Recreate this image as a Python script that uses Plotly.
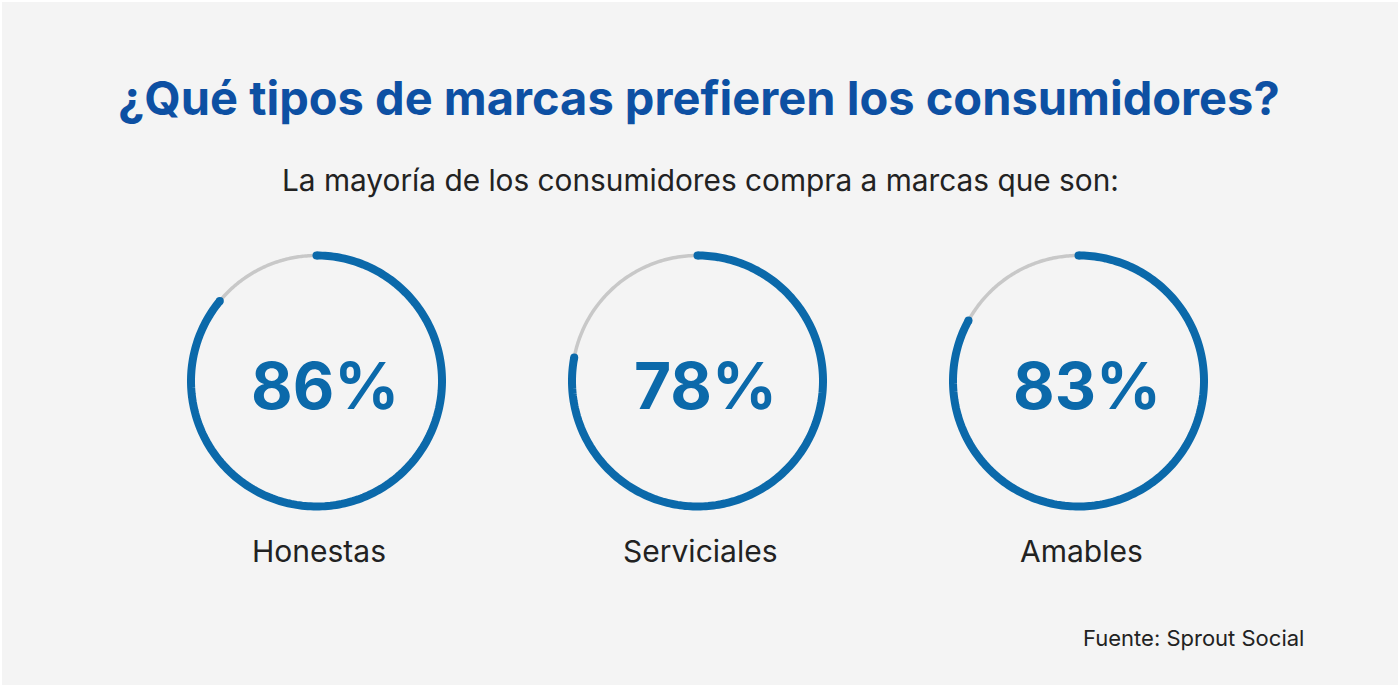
import numpy as np
import plotly.graph_objects as go

# data
categories = ["Honestas", "Serviciales", "Amables"]
percentages = [86, 78, 83]

title = "¿Qué tipos de marcas prefieren los consumidores?"
subtitle = "La mayoría de los consumidores compra a marcas que son:"
source = "Fuente: Sprout Social"

BLUE = "#0b69aa"
TITLE_BLUE = "#0d50a3"
GRAY = "#c8c8c8"
BG = "#f4f4f4"
TEXT = "#222222"

W, H = 1400, 687
centers_x = [316.5, 697.5, 1078.5]
center_y = 381
ring_r = 125.5        # radius of the ring centre line in px
r_max = 1.15          # radial range head-room so the thick line is not clipped
dom_r = ring_r * r_max


def py(y_px):
    # pixel row from top -> paper fraction
    return (H - y_px) / H


fig = go.Figure()
layout_polars = {}

for i, (cat, pct) in enumerate(zip(categories, percentages)):
    name = "polar" if i == 0 else f"polar{i + 1}"
    end = pct / 100 * 360
    th_blue = np.linspace(0, end, 240)
    th_gray = np.linspace(end, 360, 80)

    fig.add_trace(go.Scatterpolar(
        r=[1] * len(th_gray), theta=th_gray, mode="lines",
        line=dict(color=GRAY, width=3.5), subplot=name,
        hoverinfo="skip", showlegend=False,
    ))
    fig.add_trace(go.Scatterpolar(
        r=[1] * len(th_blue), theta=th_blue, mode="lines",
        line=dict(color=BLUE, width=8), subplot=name,
        hoverinfo="skip", showlegend=False,
    ))
    # round caps
    fig.add_trace(go.Scatterpolar(
        r=[1, 1], theta=[0, end], mode="markers",
        marker=dict(color=BLUE, size=8, line=dict(width=0)), subplot=name,
        hoverinfo="skip", showlegend=False,
    ))

    cx = centers_x[i]
    layout_polars[name] = dict(
        domain=dict(x=[(cx - dom_r) / W, (cx + dom_r) / W],
                    y=[py(center_y + dom_r), py(center_y - dom_r)]),
        bgcolor="rgba(0,0,0,0)",
        radialaxis=dict(visible=False, range=[0, r_max]),
        angularaxis=dict(visible=False, rotation=90, direction="clockwise"),
    )

    fig.add_annotation(
        x=(cx + 8) / W, y=py(385), xref="paper", yref="paper",
        xanchor="center", yanchor="middle",
        text=f"{pct}%", showarrow=False,
        font=dict(family="Inter", size=64, color=BLUE, weight=700),
    )
    fig.add_annotation(
        x=(cx + 2.5) / W, y=py(551), xref="paper", yref="paper",
        xanchor="center", yanchor="middle",
        text=cat, showarrow=False,
        font=dict(family="Inter", size=30, color=TEXT),
    )

fig.add_annotation(
    x=699 / W, y=py(98), xref="paper", yref="paper",
    xanchor="center", yanchor="middle",
    text=title, showarrow=False,
    font=dict(family="Inter", size=47, color=TITLE_BLUE, weight=700),
)
fig.add_annotation(
    x=700 / W, y=py(180), xref="paper", yref="paper",
    xanchor="center", yanchor="middle",
    text=subtitle, showarrow=False,
    font=dict(family="Inter", size=29.8, color=TEXT),
)
fig.add_annotation(
    x=1306 / W, y=py(638), xref="paper", yref="paper",
    xanchor="right", yanchor="middle", text=source, showarrow=False,
    font=dict(family="Inter", size=22, color=TEXT),
)

fig.add_shape(
    type="rect", xref="paper", yref="paper", x0=0, y0=0, x1=1, y1=1,
    line=dict(color="white", width=4), fillcolor="rgba(0,0,0,0)",
)

fig.update_layout(
    width=W, height=H,
    margin=dict(l=0, r=0, t=0, b=0),
    paper_bgcolor=BG, plot_bgcolor=BG,
    **layout_polars,
)

fig.write_html(
    "out.html",
    config={"displayModeBar": False},
    post_script="document.body.style.margin='0';",
)
